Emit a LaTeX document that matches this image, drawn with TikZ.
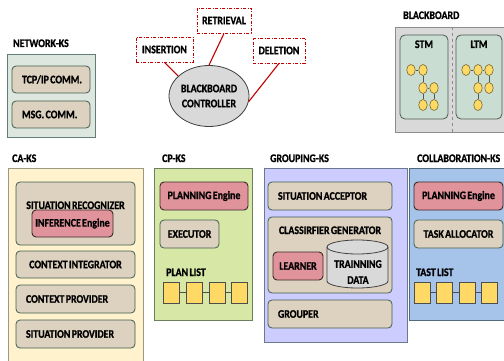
\documentclass[tikz,border=0pt]{standalone}
\usepackage{fontspec}
\setmainfont{Carlito}[FakeStretch=0.86, WordSpace=0.6, BoldFeatures={FakeBold=1}]
\usetikzlibrary{shapes.geometric}
\definecolor{netfill}{HTML}{DDE7E0}
\definecolor{netline}{HTML}{5F7F75}
\definecolor{tanfill}{HTML}{DDD1BF}
\definecolor{tanline}{HTML}{405F50}
\definecolor{pinkfill}{HTML}{E1939C}
\definecolor{pinkline}{HTML}{3A2828}
\definecolor{bbfill}{HTML}{D9D9D9}
\definecolor{bbline}{HTML}{8C8C8C}
\definecolor{memfill}{HTML}{C9DDD2}
\definecolor{memline}{HTML}{4D5A52}
\definecolor{leaffill}{HTML}{FFD966}
\definecolor{leafline}{HTML}{7A6A30}
\definecolor{cafill}{HTML}{FFF2CC}
\definecolor{caline}{HTML}{9A9A80}
\definecolor{cpfill}{HTML}{D7E8A6}
\definecolor{cpline}{HTML}{6C8060}
\definecolor{grpfill}{HTML}{CCCCFF}
\definecolor{grpline}{HTML}{6A7890}
\definecolor{colfill}{HTML}{A6C3EA}
\definecolor{colline}{HTML}{506A80}
\definecolor{sqline}{HTML}{4D4D4D}
\definecolor{ctrlline}{HTML}{404040}
\definecolor{opred}{HTML}{C00000}
\newcommand{\bx}[7]{%
  \pgfmathsetmacro{\bxcx}{(#3+#5)/2}\pgfmathsetmacro{\bxcy}{(#4+#6)/2}%
  \pgfmathsetmacro{\bxww}{#5-#3}\pgfmathsetmacro{\bxhh}{#6-#4}%
  \node[#1, minimum width=\bxww pt, minimum height=\bxhh pt] (#2) at (\bxcx,\bxcy) {#7};}
\newcommand{\bxl}[7]{%
  \pgfmathsetmacro{\bxcx}{(#3+#5)/2}\pgfmathsetmacro{\bxcy}{(#4+#6)/2}%
  \pgfmathsetmacro{\bxww}{#5-#3}\pgfmathsetmacro{\bxhh}{#6-#4}%
  \pgfmathsetmacro{\bxtw}{#5-#3-20}%
  \node[#1, minimum width=\bxww pt, minimum height=\bxhh pt, inner xsep=10pt, text width=\bxtw pt, align=left] (#2) at (\bxcx,\bxcy) {\mbox{\spaceskip=0pt\xspaceskip=0pt #7}};}
\begin{document}
\begin{tikzpicture}[x=1pt,y=-1pt,
  font=\bfseries\fontsize{11.5}{15}\selectfont,
  every node/.style={inner sep=0pt},
  ksbox/.style={draw=#1, line width=0.8pt},
  tanbox/.style={draw=tanline, fill=tanfill, rounded corners=4pt, line width=0.8pt},
  pinkbox/.style={draw=pinkline, fill=pinkfill, rounded corners=4pt, line width=0.9pt},
  opbox/.style={draw=opred, fill=white, line width=0.8pt, dash pattern=on 3pt off 1.5pt on 1pt off 1.5pt},
  ttl/.style={anchor=base west},
  leaf/.style={ellipse, draw=leafline, fill=leaffill, minimum width=8.5pt, minimum height=11pt, line width=0.6pt},
  sq/.style={draw=sqline, fill=leaffill, minimum width=16pt, minimum height=21pt, line width=0.8pt},
  memline/.style={draw=memline, line width=0.7pt},
  redline/.style={draw=opred, line width=1.1pt}]
\useasboundingbox (0,0) rectangle (504,361);
\fill[white] (0,0) rectangle (504,361);

% NETWORK-KS
\node[ttl] (netT) at (13,47) {NETWORK-KS};
\bx{ksbox=netline, fill=netfill}{net}{7}{54}{95}{137}{}
\bxl{tanbox}{tcp}{12}{66}{90}{93}{TCP/IP COMM.}
\bxl{tanbox}{msg}{12}{101}{90}{128}{MSG. COMM.}

% Controller
\node[ellipse, draw=ctrlline, fill=bbfill, line width=0.8pt, minimum width=80pt, minimum height=61pt, align=center] (ctrl) at (209,96) {BLACKBOARD\\CONTROLLER};
\bx{opbox}{ins}{136}{37}{193}{62}{INSERTION}
\bx{opbox}{ret}{197}{8}{251}{33}{RETRIEVAL}
\bx{opbox}{del}{253}{38}{305}{63}{DELETION}
\draw[redline] (ins.south) -- (ctrl.147);
\draw[redline] (ret.south) -- (ctrl.north);
\draw[redline] (del.south) -- (ctrl.-8);

% BLACKBOARD
\node[ttl] (bbT) at (403,19) {BLACKBOARD};
\bx{draw=bbline, fill=bbfill, line width=0.8pt}{bb}{395}{27}{504.5}{132}{}
\coordinate (dvt) at (452,27);
\coordinate (dvb) at (452,132);
\draw[bbline, dashed, line width=0.6pt] (dvt) -- (dvb);
\bx{draw=memline, fill=memfill, rounded corners=5pt, line width=0.8pt}{stm}{400}{35}{448}{119}{}
\bx{draw=memline, fill=memfill, rounded corners=5pt, line width=0.8pt}{ltm}{456}{35}{502}{119}{}
\node[anchor=base] (stmT) at (424,48) {STM};
\node[anchor=base] (ltmT) at (479,48) {LTM};
\node[leaf] (s1) at (411,70) {};
\node[leaf] (s2) at (423,70) {};
\node[leaf] (s3) at (423,88) {};
\node[leaf] (s4) at (434,88) {};
\node[leaf] (s5) at (423,105) {};
\node[leaf] (s6) at (434,105) {};
\draw[memline] (s1) -- (s2) (s2) -- (s3) (s3) -- (s4) (s3) -- (s5) (s4) -- (s6);
\node[leaf] (l1) at (466,70) {};
\node[leaf] (l2) at (478,70) {};
\node[leaf] (l3) at (489,70) {};
\node[leaf] (l4) at (478,88) {};
\node[leaf] (l5) at (489,88) {};
\node[leaf] (l6) at (478,105) {};
\draw[memline] (l1) -- (l2) (l2) -- (l3) (l2) -- (l4) (l4) -- (l6) (l3) -- (l5);

% CA-KS
\node[ttl] (caT) at (12,162) {CA-KS};
\bx{ksbox=caline, fill=cafill}{ca}{8}{168}{143}{366}{}
\bx{tanbox}{sr}{16}{182}{135}{245}{}
\node[anchor=base] (srT) at (75.5,209) {SITUATION RECOGNIZER};
\bx{pinkbox}{inf}{32}{210}{113}{237}{INFERENCE Engine}
\bx{tanbox}{ci}{16}{251}{135}{278}{CONTEXT INTEGRATOR}
\bxl{tanbox}{cp}{16}{285}{135}{313}{CONTEXT PROVIDER}
\bxl{tanbox}{sp}{16}{320}{135}{348}{SITUATION PROVIDER}

% CP-KS
\node[ttl] (cpT) at (162,162) {CP-KS};
\bx{ksbox=cpline, fill=cpfill}{cpks}{154}{168}{252}{320}{}
\bx{pinkbox}{pe}{160}{182}{248}{210}{PLANNING Engine}
\bx{tanbox}{ex}{160}{220}{219}{248}{EXECUTOR}
\node[ttl] (plT) at (166,276) {PLAN LIST};
\node[sq] (p1) at (171.5,292.5) {};
\node[sq] (p2) at (194,292.5) {};
\node[sq] (p3) at (217,292.5) {};
\node[sq] (p4) at (239.5,292.5) {};
\draw[sqline, line width=0.8pt] (p1) -- (p2) (p2) -- (p3) (p3) -- (p4);

% GROUPING-KS
\node[ttl] (grT) at (270,162) {GROUPING-KS};
\bx{ksbox=grpline, fill=grpfill}{grp}{264}{168}{407}{342}{}
\bxl{tanbox}{sa}{268}{182}{392}{210}{SITUATION ACCEPTOR}
\bx{tanbox}{cg}{268}{217}{392}{293}{}
\node[anchor=base] (cgT) at (330,234) {CLASSIRFIER GENERATOR};
\bx{pinkbox}{lrn}{273}{252}{323}{280}{LEARNER}
\filldraw[fill=bbfill, draw=ctrlline, line width=0.8pt]
  (327,281) arc[start angle=180, end angle=360, x radius=30.5pt, y radius=7pt]
  -- (388,247) arc[start angle=0, end angle=180, x radius=30.5pt, y radius=7pt] -- cycle;
\draw[ctrlline, line width=0.8pt] (327,247) arc[start angle=180, end angle=360, x radius=30.5pt, y radius=7pt];
\node[align=center, font=\bfseries\fontsize{11.5}{16}\selectfont] (td) at (358,272) {TRAINNING\\DATA};
\bxl{tanbox}{gpr}{268}{300}{392}{328}{GROUPER}

% COLLABORATION-KS
\node[ttl] (coT) at (417,162) {COLLABORATION-KS};
\bx{ksbox=colline, fill=colfill}{col}{409}{168}{505}{320}{}
\bx{pinkbox}{pe2}{414}{182}{503}{210}{PLANNING Engine}
\bx{tanbox}{ta}{414}{220}{503}{248}{TASK ALLOCATOR}
\node[ttl] (tlT) at (416,276) {TAST LIST};
\node[sq] (t1) at (422,292.5) {};
\node[sq] (t2) at (444.5,292.5) {};
\node[sq] (t3) at (467,292.5) {};
\node[sq] (t4) at (489.5,292.5) {};
\draw[sqline, line width=0.8pt] (t1) -- (t2) (t2) -- (t3) (t3) -- (t4);
\end{tikzpicture}
\end{document}
